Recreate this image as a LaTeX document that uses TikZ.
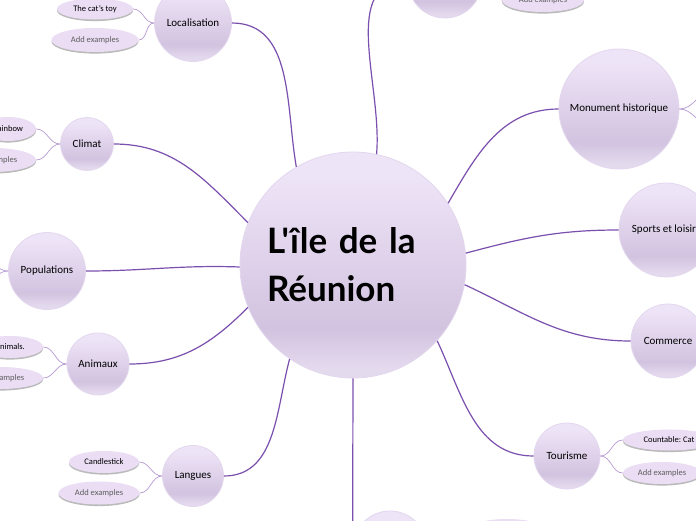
\documentclass[tikz,border=0pt]{standalone}
\usepackage{fontspec}
\setmainfont{Carlito}
\newfontfamily\titlefont{Lato}
\usepackage{tikz}
\usetikzlibrary{shapes.geometric, shadows}
\frenchspacing

\definecolor{ramo}{HTML}{7B4FAE}
\definecolor{rametto}{HTML}{B79BD3}
\definecolor{bordo}{HTML}{E3D7EE}
\definecolor{bollaA}{HTML}{EEE4F7}
\definecolor{bollaB}{HTML}{D2C3E0}
\definecolor{bollaC}{HTML}{E4DAEE}
\definecolor{foglia}{HTML}{EADDF4}
\definecolor{grigio}{HTML}{5E5E5E}

\pgfdeclareverticalshading{bolla}{100bp}{color(0bp)=(bollaC); color(27bp)=(bollaC); color(36bp)=(bollaB); color(70bp)=(bollaA); color(100bp)=(bollaA)}

\tikzset{
  bolla/.style={circle, shading=bolla, draw=bordo, line width=0.8pt, inner sep=0pt,
    font=\fontsize{11}{13}\selectfont},
  foglia/.style={ellipse, fill=foglia, inner sep=0pt, font=\fontsize{8.5}{10}\selectfont,
    drop shadow={shadow xshift=0pt, shadow yshift=-1.6pt, fill=black!45, opacity=0.6}},
  ramo/.style={draw=ramo, line width=1.2pt},
  rametto/.style={draw=rametto, line width=0.7pt},
}

\begin{document}
\begin{tikzpicture}[x=1pt, y=-1pt]
    \useasboundingbox (0,0) rectangle (696,520);
    \fill[white] (0,0) rectangle (696,520);

    % nodo centrale
    \node[bolla, minimum size=226, text width=172, align=left,
      font=\titlefont\bfseries\fontsize{35}{48}\selectfont] (reunion) at (353,265) {L'île de la\\Réunion};

    % rami principali
    \node[bolla, minimum size=77] (loc) at (193,23) {Localisation};
    \node[bolla, minimum size=53] (climat) at (87,144) {Climat};
    \node[bolla, minimum size=77] (pop) at (47,271) {Populations};
    \node[bolla, minimum size=62] (anim) at (98,364) {Animaux};
    \node[bolla, minimum size=61] (lang) at (193,476) {Langues};
    \node[bolla, minimum size=74] (haut) at (445,-19) {};
    \node[bolla, minimum size=120] (monu) at (619,109) {Monument historique};
    \node[bolla, minimum size=94] (sport) at (666,230) {Sports et loisirs};
    \node[bolla, minimum size=74] (comm) at (668,341) {Commerce};
    \node[bolla, minimum size=66] (tour) at (567,456) {Tourisme};
    \node[bolla, minimum size=74] (bas) at (390,548) {};

    % foglie
    \node[foglia, minimum width=76, minimum height=21] (giocattolo) at (95,9) {The cat's toy};
    \node[foglia, minimum width=87, minimum height=24, text=grigio] (locagg) at (95,40) {Add examples};
    \node[foglia, minimum width=56, minimum height=24] (arcobaleno) at (8,129) {Rainbow};
    \node[foglia, minimum width=86, minimum height=24, text=grigio] (climagg) at (-7,160) {Add examples};
    \node[foglia, minimum width=66, minimum height=22] (animali) at (10,347) {Animals.};
    \node[foglia, minimum width=86, minimum height=22, text=grigio] (animagg) at (0,378) {Add examples};
    \node[foglia, minimum width=70, minimum height=22] (bougeoir) at (104,462) {Candlestick};
    \node[foglia, minimum width=81, minimum height=23, text=grigio] (langagg) at (99,493) {Add examples};
    \node[foglia, minimum width=92, minimum height=21] (chat) at (669,440) {Countable: Cat};
    \node[foglia, minimum width=78, minimum height=22, text=grigio] (touragg) at (662,473) {Add examples};
    \node[foglia, minimum width=82, minimum height=24, text=grigio] (hautagg) at (543,0) {Add examples};
    \node[foglia, minimum width=80, minimum height=24, text=grigio] (basagg) at (507,531) {Add examples};

    % estremi fuori pagina
    \coordinate (monuA) at (712,92);
    \coordinate (monuB) at (712,126);
    \coordinate (popA) at (-14,263);
    \coordinate (popB) at (-14,279);

    % collegamenti al centro
    \draw[ramo] (reunion.120) to[out=100, in=0] (loc.east);
    \draw[ramo] (reunion.158) to[out=135, in=0] (climat.east);
    \draw[ramo] (reunion.181) to[out=178, in=0] (pop.east);
    \draw[ramo] (reunion.202) to[out=225, in=0] (anim.east);
    \draw[ramo] (reunion.236) to[out=255, in=0] (lang.east);
    \draw[ramo] (reunion.south) -- (bas.west);
    \draw[ramo] (reunion.78) to[out=85, in=180] (haut.west);
    \draw[ramo] (reunion.33) to[out=60, in=180] (monu.west);
    \draw[ramo] (reunion.6) to[out=15, in=180] (sport.west);
    \draw[ramo] (reunion.-10) to[out=-25, in=180] (comm.west);
    \draw[ramo] (reunion.-42) to[out=-65, in=180] (tour.west);

    % collegamenti alle foglie
    \draw[rametto] (loc.west) to[out=180, in=0] (giocattolo.east);
    \draw[rametto] (loc.west) to[out=180, in=0] (locagg.east);
    \draw[rametto] (climat.west) to[out=180, in=0] (arcobaleno.east);
    \draw[rametto] (climat.west) to[out=180, in=0] (climagg.east);
    \draw[rametto] (anim.west) to[out=180, in=0] (animali.east);
    \draw[rametto] (anim.west) to[out=180, in=0] (animagg.east);
    \draw[rametto] (lang.west) to[out=180, in=0] (bougeoir.east);
    \draw[rametto] (lang.west) to[out=180, in=0] (langagg.east);
    \draw[rametto] (tour.east) to[out=0, in=180] (chat.west);
    \draw[rametto] (tour.east) to[out=0, in=180] (touragg.west);
    \draw[rametto] (haut.east) to[out=0, in=180] (hautagg.west);
    \draw[rametto] (bas.east) to[out=0, in=180] (basagg.west);
    \draw[rametto] (monu.east) to[out=0, in=180] (monuA);
    \draw[rametto] (monu.east) to[out=0, in=180] (monuB);
    \draw[rametto] (pop.west) to[out=180, in=0] (popA);
    \draw[rametto] (pop.west) to[out=180, in=0] (popB);
\end{tikzpicture}
\end{document}
